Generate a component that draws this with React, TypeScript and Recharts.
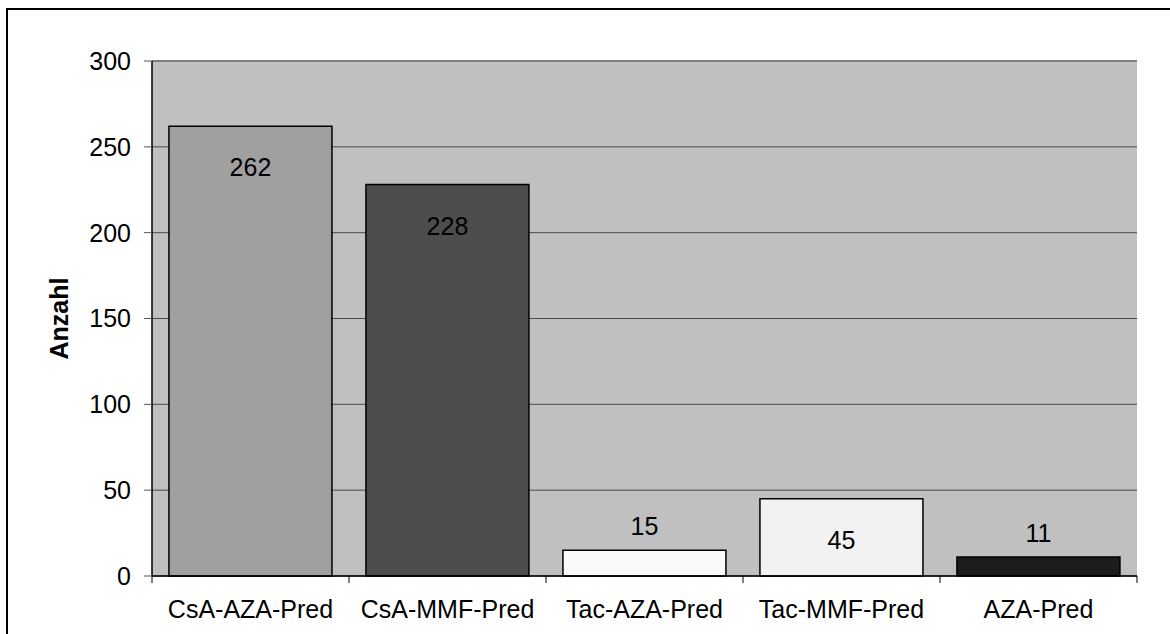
import React from 'react';
import {
  BarChart,
  Bar,
  Cell,
  XAxis,
  YAxis,
  CartesianGrid,
  LabelList,
  ReferenceLine,
} from 'recharts';

const regimens = ['CsA-AZA-Pred', 'CsA-MMF-Pred', 'Tac-AZA-Pred', 'Tac-MMF-Pred', 'AZA-Pred'];
const counts = [262, 228, 15, 45, 11];
const barColors = ['#A0A0A0', '#4D4D4D', '#FAFAFA', '#F2F2F2', '#1C1C1C'];
const yTicks = [0, 50, 100, 150, 200, 250, 300];

const chartData = regimens.map((name, i) => ({ name, count: counts[i] }));

const FONT = '"Liberation Sans", Arial, sans-serif';
const X_TICK = 7;
const X_MARGIN = 17;

// category labels centred in the band, tick marks on the band edges
function CategoryTick(props: any) {
  const { x, y, payload, index, visibleTicksCount } = props;
  const half = payload?.offset ?? 0;
  const axisY = y - X_TICK - X_MARGIN;
  const isLast = index === (visibleTicksCount ?? regimens.length) - 1;
  return (
    <g>
      <line x1={x - half} x2={x - half} y1={axisY} y2={axisY + X_TICK} stroke="#000" />
      {isLast && (
        <line x1={x + half} x2={x + half} y1={axisY} y2={axisY + X_TICK} stroke="#000" />
      )}
      <text x={x} y={y} dy="0.71em" textAnchor="middle" fill="#000" fontSize={25} fontFamily={FONT}>
        {payload.value}
      </text>
    </g>
  );
}

// value sits inside tall bars, above short ones
function ValueLabel(props: any) {
  const { x, y, width, height, value } = props;
  const cy = height > 60 ? y + 41 : y - 24;
  return (
    <text
      x={x + width / 2}
      y={cy}
      textAnchor="middle"
      dominantBaseline="central"
      fill="#000"
      fontSize={25}
      fontFamily={FONT}
    >
      {value}
    </text>
  );
}

function AxisTitle(props: any) {
  const { viewBox } = props;
  const cx = viewBox.x + 59;
  const cy = viewBox.y + viewBox.height / 2;
  return (
    <text
      x={cx}
      y={cy}
      transform={`rotate(-90, ${cx}, ${cy})`}
      textAnchor="middle"
      dominantBaseline="central"
      fontSize={25}
      fontWeight="bold"
      fontFamily={FONT}
      fill="#000"
    >
      Anzahl
    </text>
  );
}

export default function App() {
  return (
    <div
      style={{
        position: 'absolute',
        left: 0,
        top: 0,
        width: 1170,
        height: 634,
        overflow: 'hidden',
        background: '#fff',
      }}
    >
      <div
        style={{
          position: 'absolute',
          left: 6,
          top: 8,
          width: 1200,
          height: 700,
          border: '2px solid #000',
        }}
      />
      <div style={{ position: 'absolute', left: 0, top: 0 }}>
        <BarChart
          width={1170}
          height={634}
          data={chartData}
          margin={{ top: 61, right: 33, bottom: 0, left: 0 }}
          barCategoryGap="8.6%"
        >
          <CartesianGrid
            vertical={false}
            horizontal
            fill="#C0C0C0"
            fillOpacity={1}
            stroke="#4A4A4A"
            strokeWidth={1}
          />
          <XAxis
            dataKey="name"
            height={58}
            axisLine={{ stroke: '#000', strokeWidth: 1.5 }}
            tickLine={false}
            tickSize={X_TICK}
            tickMargin={X_MARGIN}
            interval={0}
            tick={<CategoryTick />}
          />
          <YAxis
            width={152}
            domain={[0, 300]}
            ticks={yTicks}
            interval={0}
            axisLine={{ stroke: '#000', strokeWidth: 1.5 }}
            tickLine={{ stroke: '#555' }}
            tickSize={8}
            tickMargin={13}
            tick={{ fill: '#000', fontSize: 25, fontFamily: FONT }}
            label={<AxisTitle />}
          />
          <YAxis
            yAxisId="frame"
            orientation="right"
            width={0}
            tick={false}
            tickLine={false}
            axisLine={{ stroke: '#808080', strokeWidth: 2 }}
          />
          <ReferenceLine y={300} stroke="#808080" strokeWidth={2} />
          <Bar dataKey="count" stroke="#000" strokeWidth={1.5} isAnimationActive={false}>
            {chartData.map((d, i) => (
              <Cell key={d.name} fill={barColors[i]} />
            ))}
            <LabelList dataKey="count" content={<ValueLabel />} />
          </Bar>
        </BarChart>
      </div>
    </div>
  );
}
